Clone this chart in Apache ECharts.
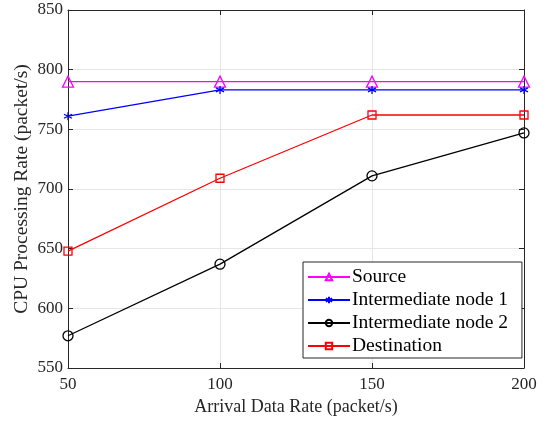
<!DOCTYPE html>
<html><head><meta charset="utf-8">
<script src="https://cdn.jsdelivr.net/npm/echarts@6/dist/echarts.min.js"></script>
<style>html,body{margin:0;padding:0;background:#fff}#c{width:549px;height:421px}</style>
</head><body><div id="c"></div>
<script>
const xValues = [50, 100, 150, 200];
const source = [790, 790, 790, 790];
const inter1 = [761, 783, 783, 783];
const inter2 = [577, 637, 711, 747];
const dest = [648, 709, 762, 762];
const seriesNames = ['Source', 'Intermediate node 1', 'Intermediate node 2', 'Destination'];
const font = 'Liberation Serif';
const ax = '#262626';
const star = 'path://M0,-10 L0,10 M-8.66,-5 L8.66,5 M-8.66,5 L8.66,-5';
function mk(name, vals, color, symbol, size) {
  return {
    name: name, type: 'line', data: xValues.map((x, i) => [x, vals[i]]),
    symbol: symbol, symbolSize: size,
    lineStyle: {color: color, width: 1.3},
    itemStyle: {color: 'rgba(255,255,255,0)', borderColor: color, borderWidth: 1.3},
    emphasis: {disabled: true}, animation: false
  };
}
const chart = echarts.init(document.getElementById('c'));
const axCommon = {
  axisLine: {show: true, lineStyle: {color: ax, width: 1}},
  axisTick: {show: true, inside: true, length: 5, lineStyle: {color: ax}},
};
chart.setOption({
  animation: false,
  grid: {left: 68, right: 25, top: 10, bottom: 52},
  xAxis: [
    Object.assign({type: 'value', min: 50, max: 200, interval: 50, position: 'bottom',
      name: 'Arrival Data Rate (packet/s)', nameLocation: 'middle', nameGap: 30,
      nameTextStyle: {fontFamily: font, fontSize: 18, color: ax},
      axisLabel: {fontFamily: font, fontSize: 17, color: ax, margin: 8},
      splitLine: {show: true, lineStyle: {color: '#e6e6e6'}}}, axCommon),
    Object.assign({type: 'value', min: 50, max: 200, interval: 50, position: 'top',
      axisLabel: {show: false}, splitLine: {show: false}}, axCommon)
  ],
  yAxis: [
    Object.assign({type: 'value', min: 550, max: 850, interval: 50, position: 'left',
      name: 'CPU Processing Rate (packet/s)', nameLocation: 'middle', nameGap: 36,
      nameMoveOverlap: false,
      nameTextStyle: {fontFamily: font, fontSize: 19.5, color: ax},
      axisLabel: {fontFamily: font, fontSize: 17, color: ax, margin: 5},
      splitLine: {show: true, lineStyle: {color: '#e6e6e6'}}}, axCommon),
    Object.assign({type: 'value', min: 550, max: 850, interval: 50, position: 'right',
      axisLabel: {show: false}, splitLine: {show: false}}, axCommon)
  ],
  legend: {
    orient: 'vertical', left: 303, top: 262,
    backgroundColor: '#fff', borderColor: ax, borderWidth: 1,
    padding: [5, 14, 2, 4], itemGap: 3, itemWidth: 42, itemHeight: 8,
    textStyle: {fontFamily: font, fontSize: 19.5, lineHeight: 19, color: '#000', padding: [0, 0, 0, -3]},
    data: seriesNames
  },
  series: [
    mk(seriesNames[0], source, '#ff00ff', 'triangle', 11),
    mk(seriesNames[1], inter1, '#0000ff', star, 8),
    mk(seriesNames[2], inter2, '#000000', 'circle', 10),
    mk(seriesNames[3], dest, '#ff0000', 'rect', 8)
  ]
});
</script></body></html>
